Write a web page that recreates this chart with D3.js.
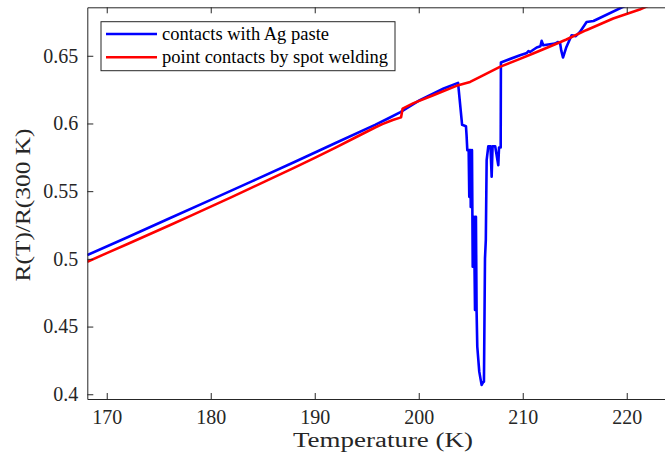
<!DOCTYPE html>
<html>
<head>
<meta charset="utf-8">
<script src="https://cdn.jsdelivr.net/npm/d3@7"></script>
<style>
  body { margin: 0; background: #fff; }
  svg { display: block; font-family: "Liberation Serif", "Times New Roman", serif; }
</style>
</head>
<body>
<div id="main-vis"></div>
<script>
// temperature (K) and R(T)/R(300 K)
const agTemp = [168.13, 172, 176, 180, 184, 188, 192, 195.8, 197, 198.2, 200.1, 202.4, 203.78,
  204.17, 204.54, 204.60, 204.67, 204.80, 204.86, 204.90, 204.97, 205.00, 205.05, 205.12, 205.19,
  205.25, 205.31, 205.41, 205.46, 205.50, 205.56, 205.63, 205.82, 205.95, 206.05, 206.22, 206.27,
  206.37, 206.45, 206.53, 206.69, 206.90, 207.01, 207.10, 207.35, 207.65, 207.72, 207.88, 207.90,
  208.46, 209.74, 210.40, 210.55, 210.70, 211.34, 211.70, 211.82, 211.97, 213.10, 213.40, 213.60,
  213.70, 213.87, 214.20, 214.70, 215.10, 215.50, 216.14, 216.80, 219.50, 220.5]
const agVal = [0.5028, 0.5160, 0.5298, 0.5436, 0.5574, 0.5714, 0.5856, 0.5990, 0.6035, 0.6082, 0.6172, 0.6258, 0.6300,
  0.5990, 0.5980, 0.5910, 0.5803, 0.5803, 0.5458, 0.5803, 0.5803, 0.5384, 0.5400, 0.5803, 0.4942,
  0.5311, 0.5311, 0.4622, 0.5311, 0.5311, 0.4622, 0.4351, 0.4167, 0.4110, 0.4069, 0.4093, 0.4093,
  0.5004, 0.5140, 0.5729, 0.5832, 0.5832, 0.5606, 0.5832, 0.5832, 0.5692, 0.5823, 0.5823, 0.6450,
  0.6467, 0.6504, 0.6521, 0.6535, 0.6528, 0.6561, 0.6570, 0.6610, 0.6578, 0.6590, 0.6602, 0.6590,
  0.6540, 0.6487, 0.6565, 0.6652, 0.6645, 0.6676, 0.6750, 0.6757, 0.6856, 0.6890]

const weldTemp = [168.13, 170, 172, 174, 176, 178, 180, 182, 184, 186, 188, 190, 192, 194, 195.8,
  196.5, 197.5, 198.3, 198.45, 199.5, 201.4, 203.8, 204.94, 205.9, 207.8, 209.5, 211.0, 212.5,
  214.2, 216.1, 218.7, 221.25, 222.5]
const weldVal = [0.4979, 0.5042, 0.5110, 0.5178, 0.5246, 0.5316, 0.5386, 0.5456, 0.5528, 0.5600, 0.5672, 0.5746, 0.5822, 0.5900, 0.5970,
  0.5995, 0.6025, 0.6045, 0.6110, 0.6150, 0.6209, 0.6283, 0.6307, 0.6344, 0.6418, 0.6470, 0.6517, 0.6565,
  0.6620, 0.6689, 0.6775, 0.6841, 0.6885]

const xTicks = [170, 180, 190, 200, 210, 220]
const yTicks = [0.4, 0.45, 0.5, 0.55, 0.6, 0.65]
const seriesNames = ['contacts with Ag paste', 'point contacts by spot welding']
const seriesColors = ['#0000ff', '#ff0000']

window.onload = setup

function setup () {
    const W = 665, H = 456
    const left = 87.3, top = 7.3, bottom = 399, right = 670

    const x = d3.scaleLinear().domain([168.13, 224.16]).range([left, right])
    const y = d3.scaleLinear().domain([0.3965, 0.6858]).range([bottom, top])

    const svg = d3.create('svg').attr('width', W).attr('height', H)

    svg.append('clipPath').attr('id', 'clip')
        .append('rect').attr('x', left).attr('y', top)
        .attr('width', right - left).attr('height', bottom - top)

    const series = [
        agTemp.map((t, i) => [t, agVal[i]]),
        weldTemp.map((t, i) => [t, weldVal[i]])
    ]

    const line = d3.line().x(d => x(d[0])).y(d => y(d[1]))

    svg.append('g').attr('clip-path', 'url(#clip)')
        .selectAll('path')
        .data(series)
        .join('path')
            .attr('d', line)
            .attr('fill', 'none')
            .attr('stroke', (d, i) => seriesColors[i])
            .attr('stroke-width', 2.6)
            .attr('stroke-linejoin', 'round')

    const axisColor = '#262626'
    const style = g => {
        g.select('.domain').attr('stroke', axisColor)
        g.selectAll('.tick line').attr('stroke', axisColor)
        g.selectAll('.tick text').attr('fill', '#262626')
            .attr('font-family', '"Liberation Serif", "Times New Roman", serif')
            .attr('font-size', 20)
    }

    svg.append('g').attr('transform', `translate(0,${bottom})`)
        .call(d3.axisBottom(x).tickValues(xTicks).tickSizeInner(-6).tickSizeOuter(0).tickPadding(11))
        .call(style)

    svg.append('g').attr('transform', `translate(0,${top})`)
        .call(d3.axisTop(x).tickValues(xTicks).tickSizeInner(-6).tickSizeOuter(0).tickFormat(''))
        .call(style)

    svg.append('g').attr('transform', `translate(${left},0)`)
        .call(d3.axisLeft(y).tickValues(yTicks).tickSizeInner(-6).tickSizeOuter(0).tickPadding(9)
            .tickFormat(d => d3.format('')(+d.toFixed(2))))
        .call(style)

    // axis titles
    svg.append('text')
        .attr('x', 383).attr('y', 447)
        .attr('text-anchor', 'middle')
        .attr('font-size', 20)
        .attr('textLength', 180).attr('lengthAdjust', 'spacingAndGlyphs')
        .attr('fill', '#262626')
        .text('Temperature (K)')

    svg.append('text')
        .attr('transform', 'translate(30,205) rotate(-90)')
        .attr('text-anchor', 'middle')
        .attr('font-size', 22)
        .attr('textLength', 153).attr('lengthAdjust', 'spacingAndGlyphs')
        .attr('fill', '#262626')
        .text('R(T)/R(300 K)')

    // legend
    const lg = svg.append('g')
    lg.append('rect')
        .attr('x', 101).attr('y', 21.7).attr('width', 294).attr('height', 49)
        .attr('fill', '#fff').attr('stroke', axisColor).attr('stroke-width', 1)
    const rows = lg.selectAll('g.row').data(seriesNames).join('g')
        .attr('class', 'row')
        .attr('transform', (d, i) => `translate(0,${34 + i * 23.3})`)
    rows.append('line')
        .attr('x1', 106).attr('x2', 157)
        .attr('stroke', (d, i) => seriesColors[i]).attr('stroke-width', 2.6)
    rows.append('text')
        .attr('x', 162).attr('dy', '0.33em')
        .attr('font-size', 18.5).attr('fill', '#000')
        .text(d => d)

    const div = d3.select('#main-vis')
    div.node().appendChild(svg.node())
}
</script>
</body>
</html>
